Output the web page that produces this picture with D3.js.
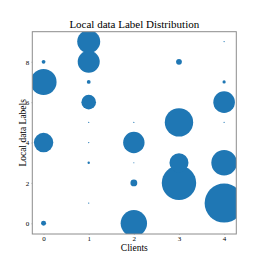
<!DOCTYPE html>
<html>
<head>
<meta charset="utf-8">
<script src="https://cdn.jsdelivr.net/npm/d3@7"></script>
<style>
  html, body { margin: 0; padding: 0; background: #fff; }
</style>
</head>
<body>
<div id="chart"></div>
<script>
// one entry per bubble: client, label, sample count
const clients = [0, 0, 0, 0,  1, 1, 1, 1, 1, 1, 1, 1,  2, 2, 2, 2, 2,  3, 3, 3, 3,  4, 4, 4, 4, 4, 4]
const labels  = [0, 4, 7, 8,  1, 3, 4, 5, 6, 7, 8, 9,  0, 2, 3, 4, 5,  2, 3, 5, 8,  1, 3, 5, 6, 7, 9]
const counts  = [62, 941, 1690, 36,  4, 14, 4, 4, 533, 36, 1210, 1322,  1742, 116, 3, 1145, 4,  2958, 903, 2016, 84,  3800, 1638, 4, 1166, 26, 4]
const xTicks = [0, 1, 2, 3, 4]
const yTicks = [0, 2, 4, 6, 8]

const width = 263, height = 263
const margin = { left: 32.3, right: 26.7, top: 31.7, bottom: 29 }
const serif = '"Liberation Serif", "Times New Roman", Times, "DejaVu Serif", serif'

const svg = d3.select('#chart').append('svg')
  .attr('width', width)
  .attr('height', height)

const x = d3.scaleLinear().domain([-0.25, 4.27]).range([margin.left, width - margin.right])
const y = d3.scaleLinear().domain([-0.53, 9.49]).range([height - margin.bottom, margin.top])
const r = d3.scaleSqrt().domain([0, d3.max(counts)]).range([0, 19.5])

svg.append('clipPath').attr('id', 'plotClip')
  .append('rect')
    .attr('x', x.range()[0]).attr('y', y.range()[1])
    .attr('width', x.range()[1] - x.range()[0])
    .attr('height', y.range()[0] - y.range()[1])

svg.append('g')
  .attr('clip-path', 'url(#plotClip)')
  .selectAll('circle')
  .data(counts.map((c, i) => ({ client: clients[i], label: labels[i], count: c })))
  .enter()
  .append('circle')
    .attr('cx', d => x(d.client))
    .attr('cy', d => y(d.label))
    .attr('r', d => r(d.count))
    .attr('fill', '#1f77b4')

// frame
svg.append('rect')
  .attr('x', x.range()[0]).attr('y', y.range()[1])
  .attr('width', x.range()[1] - x.range()[0])
  .attr('height', y.range()[0] - y.range()[1])
  .attr('fill', 'none')
  .attr('stroke', '#8c8c8c')
  .attr('stroke-width', 1)

const xAxis = svg.append('g')
  .attr('transform', `translate(0,${y.range()[0]})`)
  .call(d3.axisBottom(x).tickValues(xTicks).tickFormat(d3.format('d')).tickSize(1).tickPadding(1.5))
const yAxis = svg.append('g')
  .attr('transform', `translate(${x.range()[0]},0)`)
  .call(d3.axisLeft(y).tickValues(yTicks).tickFormat(d3.format('d')).tickSize(1).tickPadding(2))

;[xAxis, yAxis].forEach(a => {
  a.attr('font-family', null)
  a.select('.domain').remove()
  a.selectAll('.tick line').attr('stroke', '#999').attr('stroke-width', 0.6)
  a.selectAll('.tick text')
    .style('font-family', serif)
    .style('font-size', '7px')
    .attr('fill', '#000')
})

svg.append('text')
  .attr('x', (x.range()[0] + x.range()[1]) / 2)
  .attr('y', 28)
  .attr('text-anchor', 'middle')
  .style('font-family', serif)
  .style('font-size', '11px')
  .text('Local data Label Distribution')

svg.append('text')
  .attr('x', (x.range()[0] + x.range()[1]) / 2)
  .attr('y', 250.5)
  .attr('text-anchor', 'middle')
  .style('font-family', serif)
  .style('font-size', '9.5px')
  .text('Clients')

svg.append('text')
  .attr('transform', `translate(26,${(y.range()[0] + y.range()[1]) / 2}) rotate(-90)`)
  .attr('text-anchor', 'middle')
  .style('font-family', serif)
  .style('font-size', '9.5px')
  .text('Local data Labels')
</script>
</body>
</html>
